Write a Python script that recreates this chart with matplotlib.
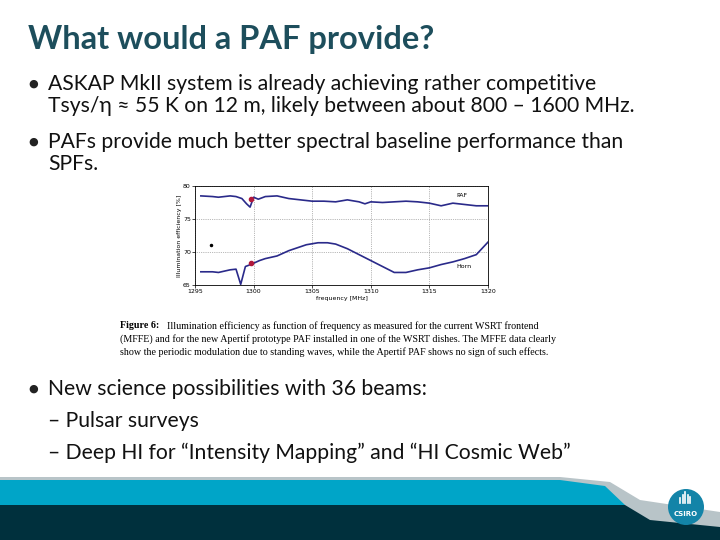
import numpy as np
import matplotlib
matplotlib.use("Agg")
import matplotlib.pyplot as plt
from matplotlib.patches import Circle, Polygon

# ---------------------------------------------------------------------------
# Data
# ---------------------------------------------------------------------------
paf_freq = [1295.5, 1296.5, 1297.0, 1298.0, 1298.5, 1299.0, 1299.4, 1299.7, 1300.0, 1300.4,
            1301.0, 1302.0, 1303.0, 1304.0, 1305.0, 1306.0, 1307.0, 1308.0, 1309.0, 1309.5,
            1310.0, 1311.0, 1312.0, 1313.0, 1314.0, 1315.0, 1316.0, 1317.0, 1318.0, 1319.0, 1320.0]
paf_eff = [78.5, 78.4, 78.3, 78.5, 78.4, 78.1, 77.3, 76.8, 78.3, 78.0,
           78.4, 78.5, 78.1, 77.9, 77.7, 77.7, 77.6, 77.9, 77.6, 77.3,
           77.6, 77.5, 77.6, 77.7, 77.6, 77.4, 77.0, 77.4, 77.2, 77.0, 77.0]
horn_freq = [1295.5, 1296.5, 1297.0, 1298.0, 1298.5, 1298.9, 1299.3, 1299.6, 1300.0, 1300.5,
             1301.0, 1302.0, 1303.0, 1304.0, 1304.5, 1305.5, 1306.3, 1307.0, 1308.0, 1309.0,
             1310.0, 1311.0, 1312.0, 1313.0, 1314.0, 1315.0, 1316.0, 1317.0, 1318.0, 1319.0, 1320.0]
horn_eff = [67.0, 67.0, 66.9, 67.3, 67.4, 65.1, 67.8, 68.0, 68.3, 68.7,
            69.0, 69.4, 70.2, 70.8, 71.1, 71.4, 71.4, 71.2, 70.5, 69.6,
            68.7, 67.8, 66.9, 66.9, 67.3, 67.6, 68.1, 68.5, 69.0, 69.6, 71.5]
marker_freq = [1299.8, 1299.8]
marker_eff = [78.0, 68.3]
dot_freq = [1296.4]
dot_eff = [71.0]

x_ticks = [1295, 1300, 1305, 1310, 1315, 1320]
y_ticks = [65, 70, 75, 80]

title = "What would a PAF provide?"
bullets = [
    ("\u25cf", "ASKAP MkII system is already achieving rather competitive", 84),
    ("", "Tsys/\u03b7 \u2248 55 K on 12 m, likely between about 800 \u2013 1600 MHz.", 106),
    ("\u25cf", "PAFs provide much better spectral baseline performance than", 142),
    ("", "SPFs.", 164),
    ("\u25cf", "New science possibilities with 36 beams:", 389),
    ("", "\u2013 Pulsar surveys", 421),
    ("", "\u2013 Deep HI for \u201cIntensity Mapping\u201d and \u201cHI Cosmic Web\u201d", 453),
]
caption = [
    "Illumination efficiency as function of frequency as measured for the current WSRT frontend",
    "(MFFE) and for the new Apertif prototype PAF installed in one of the WSRT dishes. The MFFE data clearly",
    "show the periodic modulation due to standing waves, while the Apertif PAF shows no sign of such effects.",
]

fig = plt.figure(figsize=(7.2, 5.4), dpi=100)

# slide canvas in pixel coordinates
bg = fig.add_axes([0, 0, 1, 1])
bg.set_xlim(0, 720)
bg.set_ylim(540, 0)
bg.axis("off")

bg.text(28, 40, title, fontsize=23.5, fontweight="bold", color="#1d4e5c",
        family="Lato", va="center")
for sym, txt, y in bullets:
    if sym:
        bg.text(28, y, sym, fontsize=8, color="#222222", va="center")
    bg.text(48, y, txt, fontsize=15.2, color="#111111", family="Lato", va="center")

bg.text(120, 326, "Figure 6:", fontsize=7.2, fontweight="bold", family="Liberation Serif",
        va="center")
for i, line in enumerate(caption):
    x0 = 167 if i == 0 else 120
    bg.text(x0, 326 + 13 * i, line, fontsize=7.2, family="Liberation Serif", va="center")

# footer bands
bg.add_patch(Polygon([[0, 477], [560, 477], [610, 482], [640, 500], [720, 512],
                      [720, 540], [0, 540]], closed=True, color="#b8c4c8", lw=0))
bg.add_patch(Polygon([[0, 480], [560, 480], [605, 486], [625, 505], [0, 505]],
                     closed=True, color="#00a5c8", lw=0))
bg.add_patch(Polygon([[0, 505], [625, 505], [650, 520], [720, 527], [720, 540], [0, 540]],
                     closed=True, color="#00303d", lw=0))
bg.add_patch(Circle((686, 507), 18, color="#1384a8", lw=0))
bg.text(686, 514, "CSIRO", fontsize=5, color="white", ha="center", va="center",
        fontweight="bold")
for k, h in enumerate([5, 8, 11, 8, 6]):
    bg.plot([680 + 2.5 * k] * 2, [503, 503 - h], color="white", lw=1.2)

# embedded chart
ax = fig.add_axes([195 / 720, 1 - 285 / 540, 293 / 720, 99 / 540])
ax.plot(paf_freq, paf_eff, color="#2a2a8a", lw=1.2)
ax.plot(horn_freq, horn_eff, color="#2a2a8a", lw=1.2)
ax.plot(marker_freq, marker_eff, "o", color="#b0183c", ms=3)
ax.plot(dot_freq, dot_eff, "o", color="black", ms=1.5)
ax.text(1317.3, 78.3, "PAF", fontsize=4.5)
ax.text(1317.3, 67.6, "Horn", fontsize=4.5)
ax.set_xlim(1295, 1320)
ax.set_ylim(65, 80)
ax.set_xticks(x_ticks)
ax.set_yticks(y_ticks)
ax.tick_params(labelsize=4.5, length=2, width=0.5, pad=1)
ax.grid(True, ls=":", color="#777777", lw=0.5)
for s in ax.spines.values():
    s.set_linewidth(0.6)
ax.set_xlabel("frequency [MHz]", fontsize=4.5, labelpad=1)
ax.set_ylabel("Illumination efficiency [%]", fontsize=4.5, labelpad=1)

fig.savefig("out.png", dpi=100)
